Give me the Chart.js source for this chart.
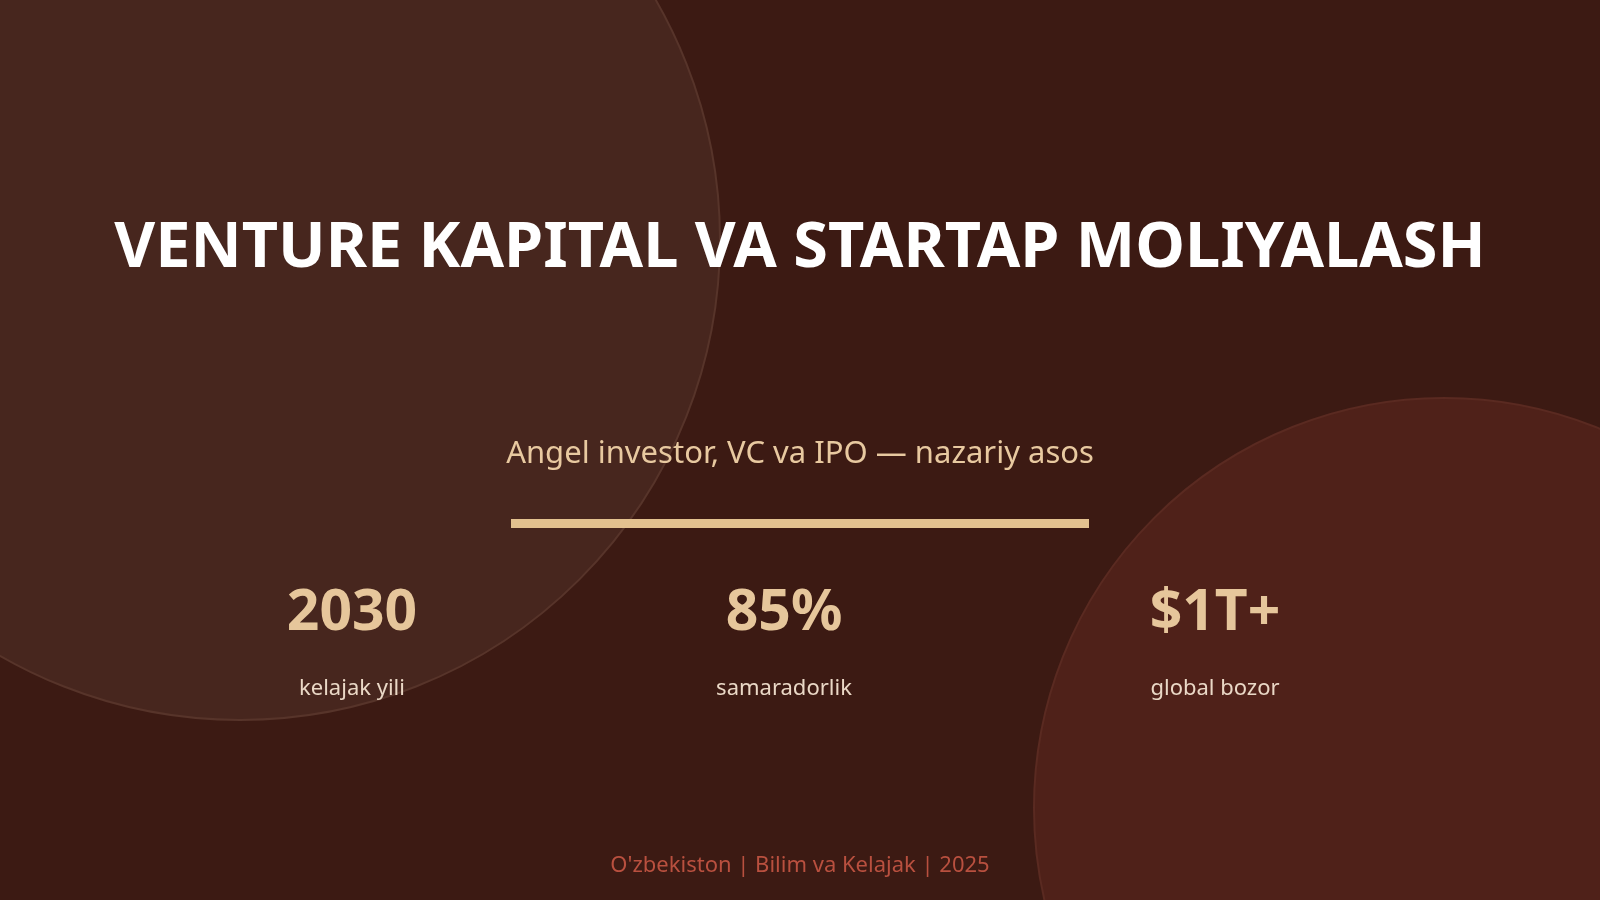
<!DOCTYPE html>
<html><head><meta charset="utf-8">
<script src="https://cdn.jsdelivr.net/npm/chart.js@4"></script>
<style>
html,body{margin:0;padding:0;width:1600px;height:900px;overflow:hidden;background:#3c1a13;font-family:"Noto Sans",sans-serif}
#wrap{position:absolute;left:0;top:0;width:1600px;height:900px}
.t{position:absolute;left:0;width:1600px;text-align:center;white-space:nowrap}
#title{top:200px;font-size:63px;font-weight:700;color:#fff}
#sub{top:430px;font-size:31px;color:#e8c9a0}
#line{position:absolute;left:511px;top:519px;width:578px;height:9px;background:#e3c18f}
.stat{position:absolute;width:300px;text-align:center}
.num{font-size:57px;font-weight:700;color:#e6c69b;line-height:1}
.lab{font-size:22px;color:#ead8c6;margin-top:34px}
#foot{top:848px;font-size:22px;color:#b9503f}
</style></head><body>
<div id="wrap"><canvas id="c" width="1600" height="900"></canvas></div>
<div class="t" id="title"></div>
<div class="t" id="sub"></div>
<div id="line"></div>
<div id="stats"></div>
<div class="t" id="foot"></div>
<script>
const titleText = "VENTURE KAPITAL VA STARTAP MOLIYALASH";
const subtitleText = "Angel investor, VC va IPO — nazariy asos";
const statValues = ["2030", "85%", "$1T+"];
const statLabels = ["kelajak yili", "samaradorlik", "global bozor"];
const statCentersX = [352, 784, 1215];
const footerText = "O'zbekiston | Bilim va Kelajak | 2025";
const circleX = [240, 1444];
const circleY = [240, 808];
const circleR = [480, 410];

document.getElementById('title').textContent = titleText;
document.getElementById('sub').textContent = subtitleText;
document.getElementById('foot').textContent = footerText;
const st = document.getElementById('stats');
statValues.forEach((v,i)=>{
  const d=document.createElement('div');d.className='stat';
  d.style.left=(statCentersX[i]-150)+'px';d.style.top='580px';
  d.innerHTML='<div class="num"></div><div class="lab"></div>';
  d.children[0].textContent=v;d.children[1].textContent=statLabels[i];
  st.appendChild(d);
});

new Chart(document.getElementById('c'), {
  type:'bubble',
  data:{datasets:[{
    data: circleX.map((x,i)=>({x:x,y:circleY[i],r:circleR[i]})),
    backgroundColor:['#47261e','#4f2119'],
    borderColor:['#57342a','#5a2a21'],
    borderWidth:2,
    clip:false
  }]},
  options:{
    responsive:false,animation:false,
    layout:{padding:0,autoPadding:false},
    plugins:{legend:{display:false},tooltip:{enabled:false}},
    scales:{
      x:{type:'linear',min:0,max:1600,display:false},
      y:{type:'linear',min:0,max:900,reverse:true,display:false}
    }
  }
});
</script>
</body></html>
